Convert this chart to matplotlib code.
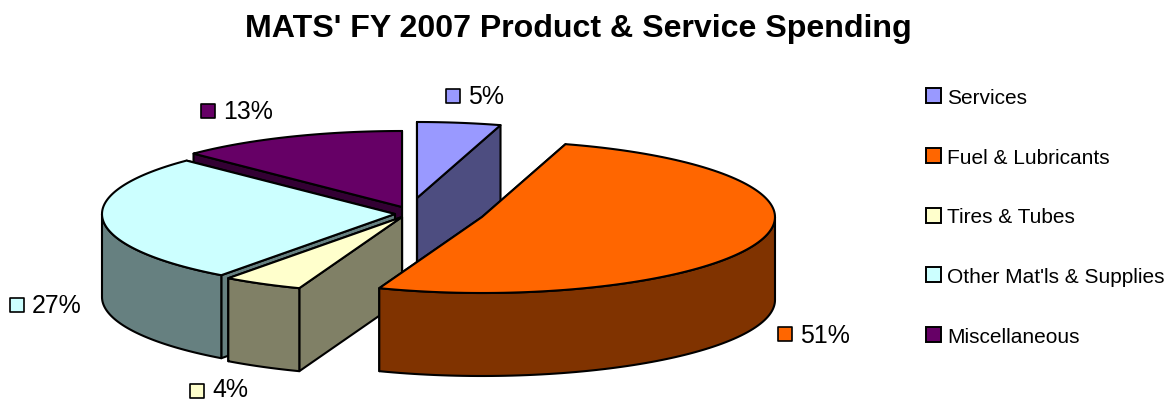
import numpy as np
import matplotlib
matplotlib.use("Agg")
import matplotlib.pyplot as plt
from matplotlib.patches import Patch

categories = ["Services", "Fuel & Lubricants", "Tires & Tubes", "Other Mat'ls & Supplies", "Miscellaneous"]
# shares; the labels show them rounded
values = [4.6, 51.1, 4.4, 27.3, 12.6]
title = "MATS' FY 2007 Product & Service Spending"

top_colors = ["#9999FF", "#FF6600", "#FFFFCC", "#CCFFFF", "#660066"]
side_colors = ["#4D4D80", "#803300", "#808066", "#668080", "#330033"]
explode_dx = [13, 78, -2, -9, -2]
explode_dy = [-14, 5, 5, 2, -5]
label_pos = [(453, 97), (785, 335), (197, 392), (17, 306), (208, 112)]
label_text_dy = [0, 1, -2, 0, 0]

W, H = 1169, 402
CX, CY, RX, RY, DEPTH = 404, 213, 293, 76, 83

plt.rcParams["font.family"] = "Liberation Sans"
fig = plt.figure(figsize=(W / 100, H / 100), dpi=100)
ax = fig.add_axes([0, 0, 1, 1])
ax.set_xlim(0, W)
ax.set_ylim(H, 0)
ax.axis("off")


def rim(ax0, ay0, a):
    return ax0 + RX * np.sin(a), ay0 - RY * np.cos(a)


fractions = np.array(values, dtype=float) / sum(values)
edges = np.concatenate([[0], np.cumsum(fractions)]) * 2 * np.pi

order = [0, 4, 3, 2, 1]
LW = 1.5
for i in order:
    a0, a1 = edges[i], edges[i + 1]
    x0, y0 = CX + explode_dx[i], CY + explode_dy[i]
    # cut faces: the trailing one first so that the leading one stays on top
    for a in (a1, a0):
        xe, ye = rim(x0, y0, a)
        ax.fill([x0, xe, xe, x0], [y0, ye, ye + DEPTH, y0 + DEPTH],
                facecolor=side_colors[i], edgecolor="black", lw=LW, joinstyle="round")
    # outer wall (front half only)
    w0, w1 = max(a0, np.pi / 2), min(a1, 3 * np.pi / 2)
    if w1 > w0:
        t = np.linspace(w0, w1, 80)
        xs, ys = rim(x0, y0, t)
        ax.fill(np.r_[xs, xs[::-1]], np.r_[ys, ys[::-1] + DEPTH],
                facecolor=side_colors[i], edgecolor="black", lw=LW, joinstyle="round")
    # top
    t = np.linspace(a0, a1, 120)
    xs, ys = rim(x0, y0, t)
    ax.fill(np.r_[x0, xs], np.r_[y0, ys],
            facecolor=top_colors[i], edgecolor="black", lw=LW, joinstyle="round")

# data labels
for i, (lx, ly) in enumerate(label_pos):
    ax.scatter([lx], [ly], marker="s", s=105, facecolor=top_colors[i], edgecolor="black", linewidths=1.2, zorder=5)
    ax.text(lx + 15, ly + label_text_dy[i], f"{values[i]:.0f}%", fontsize=17.9, color="black",
            va="center", ha="left", zorder=5)

ax.text(578, 29, title, fontsize=23.1, fontweight="bold", ha="center", va="center", color="black")

handles = [Patch(facecolor=c, edgecolor="black", linewidth=1.4) for c in top_colors]
ax.legend(handles, categories, loc="upper left", bbox_to_anchor=(922 / W, 1 - 85 / H),
          bbox_transform=fig.transFigure, frameon=False, fontsize=15.0,
          labelspacing=1.95, handlelength=0.72, handleheight=0.72, handletextpad=0.3,
          borderaxespad=0, borderpad=0.2, labelcolor="black")

fig.savefig("out.png", dpi=100)
